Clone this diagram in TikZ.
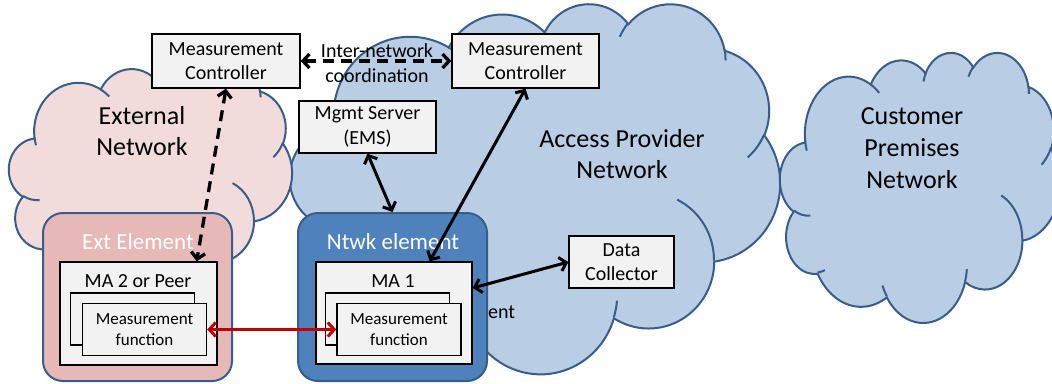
\documentclass[tikz,border=0pt]{standalone}
\usepackage{fontspec}
\setmainfont{Carlito}
\usetikzlibrary{arrows.meta}

\definecolor{cloudline}{RGB}{56,93,138}
\definecolor{apfill}{RGB}{185,205,229}
\definecolor{extfill}{RGB}{242,220,219}
\definecolor{extelem}{RGB}{230,185,184}
\definecolor{ntwkelem}{RGB}{79,129,189}
\definecolor{boxfill}{RGB}{242,242,242}
\definecolor{linkred}{RGB}{192,0,0}

\newcommand\boxfont{\fontsize{20}{24.4}\selectfont}
\newcommand\cloudfont{\fontsize{26}{31.7}\selectfont}
\newcommand\elemfont{\fontsize{23}{28}\selectfont}
\newcommand\mffont{\fontsize{17}{20.7}\selectfont}

% Cloud outline built from elliptical lobes (432 x 432 unit frame, y downwards,
% angles are visual angles that get converted to parametric ones)
\newcommand\cldsetup[4]{\def\cldx{#1}\def\cldy{#2}%
  \pgfmathsetmacro\cldsx{#3/432}\pgfmathsetmacro\cldsy{#4/432}}
\newcommand\cldmove[2]{%
  \pgfmathsetmacro\cldpx{\cldx+#1*\cldsx}%
  \pgfmathsetmacro\cldpy{-(\cldy+#2*\cldsy)}%
  \pgfpathmoveto{\pgfpoint{\cldpx pt}{\cldpy pt}}}
\newcommand\cldarc[4]{%
  \pgfmathsetmacro\cldts{atan2(#1*sin(#3),#2*cos(#3))}%
  \pgfmathsetmacro\cldte{atan2(#1*sin(#3+#4),#2*cos(#3+#4))}%
  \pgfmathsetmacro\cldd{\cldte-\cldts}%
  \pgfmathsetmacro\cldd{\cldd-360*round((\cldd-(#4))/360)}%
  \pgfmathsetmacro\cldrx{#1*\cldsx}%
  \pgfmathsetmacro\cldry{#2*\cldsy}%
  \pgfmathsetmacro\cldA{-\cldts}%
  \pgfmathsetmacro\cldB{-\cldts-\cldd}%
  \pgfpatharc{\cldA}{\cldB}{\cldrx pt and \cldry pt}}
\newcommand\cldoutline{%
  \cldmove{39.00}{143.70}%
  \cldarc{67.53}{91.90}{-190.48748}{123.78053}%
  \cldarc{53.33}{72.67}{-144.10238}{89.94523}%
  \cldarc{43.65}{59.45}{-145.80792}{99.72302}%
  \cldarc{48.57}{65.95}{-130.98607}{117.24173}%
  \cldarc{53.33}{72.73}{-78.70888}{109.02692}%
  \cldarc{67.75}{92.20}{-46.26725}{130.269}%
  \cldarc{57.85}{78.67}{0.62502}{114.03333}%
  \cldarc{67.52}{92.15}{22.4516}{115.17255}%
  \cldarc{77.20}{105.43}{66.24263}{75.71102}%
  \cldarc{43.60}{59.18}{-274.94208}{146.73557}%
  \cldarc{43.45}{59.45}{-246.8285}{152.51885}%
  \pgfpathclose}
\newcommand\cldfolds{%
  \cldmove{46.93}{261.77}\cldarc{43.45}{59.45}{86.742}{26.4295}%
  \cldmove{69.28}{348.99}\cldarc{43.60}{59.18}{73.61047}{11.44747}%
  \cldmove{164.78}{390.90}\cldarc{67.52}{92.15}{137.62415}{14.0811}%
  \cldmove{288.27}{347.51}\cldarc{67.52}{92.15}{6.45327}{15.99835}%
  \cldmove{341.29}{229.54}\cldarc{57.85}{78.67}{-70.29235}{70.91737}%
  \cldmove{417.98}{153.54}\cldarc{53.33}{72.73}{30.31803}{27.7515}%
  \cldmove{383.24}{54.26}\cldarc{48.57}{65.95}{-13.74433}{14.8589}%
  \cldmove{290.78}{39.52}\cldarc{48.57}{65.95}{-149.18145}{18.19537}%
  \cldmove{221.41}{47.20}\cldarc{43.65}{59.45}{-163.49427}{17.68635}%
  \cldmove{140.00}{51.92}\cldarc{67.53}{91.90}{-66.70695}{12.31935}%
  \cldmove{41.27}{157.89}\cldarc{67.53}{91.90}{157.65435}{11.85817}}
\newcommand\drawcloud[5]{%
  \begin{pgfscope}
    \cldsetup{#1}{#2}{#3}{#4}%
    \pgfsetlinewidth{2pt}%
    \pgfsetstrokecolor{cloudline}%
    \pgfsetfillcolor{#5}%
    \cldoutline\pgfusepath{fill,stroke}%
    \cldfolds\pgfusepath{stroke}%
  \end{pgfscope}}

\tikzset{
  box/.style={draw=black, line width=1.4pt, fill=boxfill, inner sep=0pt,
    align=center, font=\boxfont},
  mfbox/.style={box, font=\mffont, minimum width=124pt, minimum height=52pt},
  elem/.style={draw=cloudline, line width=2pt, rounded corners=20pt, inner sep=0pt,
    minimum width=189pt, minimum height=168pt},
  lbl/.style={inner sep=0pt, align=center},
  barbs/.style={{Straight Barb[length=6.5pt,width=14pt]}-{Straight Barb[length=6.5pt,width=14pt]}},
  link/.style={line width=3pt, barbs},
  dlink/.style={link, line width=3.3pt, dash pattern=on 11pt off 7pt},
}

\begin{document}
\begin{tikzpicture}[x=1pt, y=1pt]
  \useasboundingbox (0,0) rectangle (1052,-383);

  % network clouds
  \drawcloud{290}{3}{490}{370}{apfill}
  \drawcloud{9}{62}{283}{228}{extfill}
  \drawcloud{780}{52}{280}{270}{apfill}

  \node[lbl, font=\cloudfont] (extnet) at (142,-131) {External\\Network};
  \node[lbl, font=\cloudfont] (apnet) at (622,-154) {Access Provider\\Network};
  \node[lbl, font=\cloudfont] (cpnet) at (912,-148) {Customer\\Premises\\Network};

  % controllers and servers
  \node[box, minimum width=148pt, minimum height=54pt] (mcL) at (226,-61)
    {Measurement\\Controller};
  \node[box, minimum width=147pt, minimum height=54pt] (mcR) at (525.5,-61)
    {Measurement\\Controller};
  \node[box, minimum width=137pt, minimum height=52pt] (mgmt) at (367.5,-127)
    {Mgmt Server\\(EMS)};
  \node[box, minimum width=105pt, minimum height=52pt] (dc) at (621.5,-262)
    {Data\\Collector};
  \node[lbl, font=\boxfont] (coord) at (377,-63) {Inter-network\\coordination};
  \node[lbl, font=\boxfont, anchor=base west] (ent) at (488,-318) {ent};

  % external element
  \node[elem, fill=extelem] (ext) at (137.5,-297) {};
  \node[lbl, font=\elemfont, text=white] (exttitle) at (138,-242) {Ext Element};
  \node[box, minimum width=157pt, minimum height=103pt] (ma2) at (138.5,-313.5) {};
  \node[lbl, font=\boxfont] (ma2title) at (138,-281) {MA 2 or Peer};
  \node[mfbox] (mf2b) at (132.5,-319) {};
  \node[mfbox] (mf2) at (144.5,-329.5) {Measurement\\function};

  % network element
  \node[elem, fill=ntwkelem] (ntwk) at (392.5,-297) {};
  \node[lbl, font=\elemfont, text=white] (ntwktitle) at (393,-242) {Ntwk element};
  \node[box, minimum width=156pt, minimum height=102pt] (ma1) at (394,-313) {};
  \node[lbl, font=\boxfont] (ma1title) at (393,-281) {MA 1};
  \node[mfbox] (mf1b) at (387.5,-319) {};
  \node[mfbox] (mf1) at (399,-329.5) {Measurement\\function};

  % connectors
  \draw[dlink] (mcL.east) -- (mcR.west);
  \draw[dlink] (mcL.south) -- ([xshift=-21pt]ma2.north east);
  \draw[link] (mgmt.south) -- (ntwk.north);
  \draw[link] (mcR.south) -- ([xshift=-43pt]ma1.north east);
  \draw[link] ([yshift=25pt]ma1.east) -- (dc.west);
  \draw[link, draw=linkred] (mf2.east) -- (mf1.west);
\end{tikzpicture}
\end{document}
